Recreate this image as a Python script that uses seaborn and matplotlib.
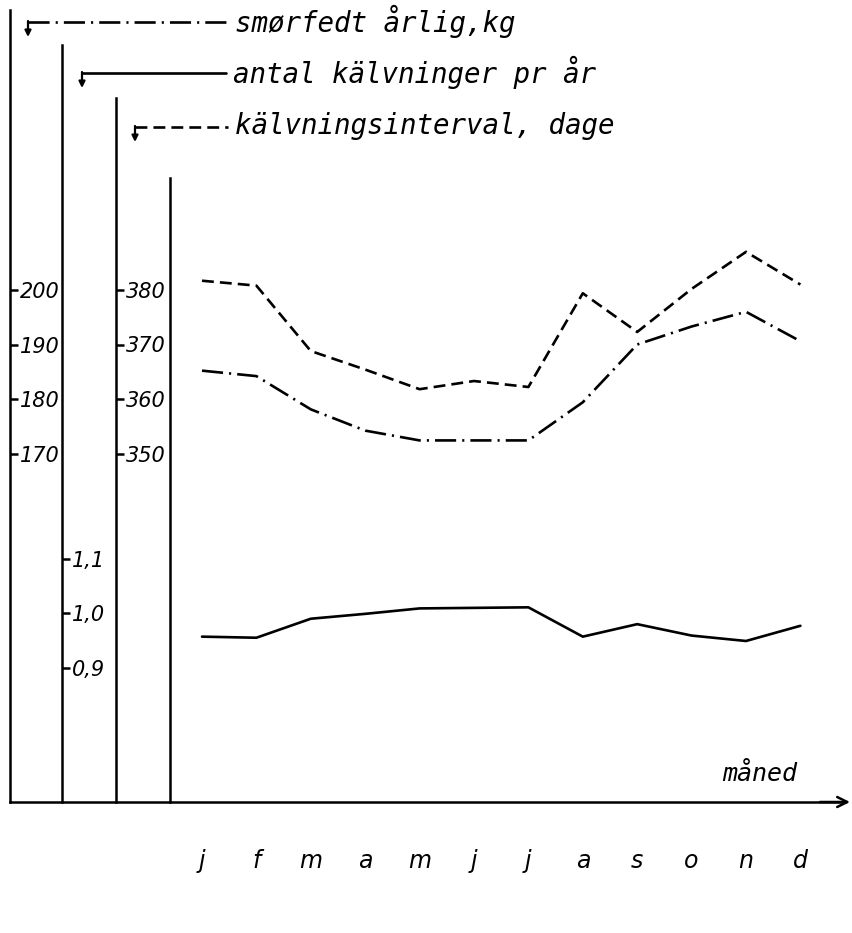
import numpy as np
import pandas as pd
import matplotlib
matplotlib.use("Agg")
import matplotlib.pyplot as plt
from matplotlib.lines import Line2D
import seaborn as sns

# ---- data -------------------------------------------------------------
months = ["j", "f", "m", "a", "m", "j", "j", "a", "s", "o", "n", "d"]
butterfat_kg = [185.2, 184.2, 178.1, 174.2, 172.4, 172.4, 172.4, 179.4, 190.0, 193.3, 196.0, 190.6]
calvings_per_year = [0.957, 0.955, 0.990, 0.999, 1.009, 1.010, 1.011, 0.957, 0.980, 0.959, 0.949, 0.977]
calving_interval_days = [381.7, 380.8, 368.8, 365.4, 361.8, 363.3, 362.2, 379.4, 372.3, 380.2, 387.0, 381.0]

kg_ticks = [170, 180, 190, 200]
kg_tick_labels = ["170", "180", "190", "200"]
calving_ticks = [0.9, 1.0, 1.1]
calving_tick_labels = ["0,9", "1,0", "1,1"]
interval_ticks = [350, 360, 370, 380]
interval_tick_labels = ["350", "360", "370", "380"]

legend_labels = ["smørfedt årlig,kg", "antal kälvninger pr år", "kälvningsinterval, dage"]
x_label = "måned"

df = pd.DataFrame({
    "month_index": np.arange(len(months)),
    "butterfat_kg": butterfat_kg,
    "calvings": calvings_per_year,
    "interval": calving_interval_days,
})

# ---- style ------------------------------------------------------------
sns.set_theme(style="white")
plt.rcParams["font.family"] = ["DejaVu Sans"]
plt.rcParams["axes.linewidth"] = 1.8
plt.rcParams["text.color"] = "black"
plt.rcParams["xtick.color"] = "black"
plt.rcParams["ytick.color"] = "black"
plt.rcParams["ytick.labelsize"] = 15
plt.rcParams["xtick.labelsize"] = 17
LETTERING = ["DejaVu Sans Mono"]

W, H = 853, 933
fig = plt.figure(figsize=(W / 100, H / 100), dpi=100, facecolor="white")

# frame in pixels (measured from the top-left corner)
LEFT, RIGHT, TOP, BOTTOM = 10, 845, 8, 802
ax_kg = fig.add_axes([LEFT / W, 1 - BOTTOM / H, (RIGHT - LEFT) / W, (BOTTOM - TOP) / H])
ax_calv = ax_kg.twinx()
ax_int = ax_kg.twinx()

# line styles
LW = 1.9
DASHED = (0, (4.5, 2.3))
DASHDOT = (0, (8.0, 2.3, 0.8, 2.3))

sns.lineplot(data=df, x="month_index", y="butterfat_kg", ax=ax_kg, color="black",
             linewidth=LW, linestyle=DASHDOT)
sns.lineplot(data=df, x="month_index", y="calvings", ax=ax_calv, color="black",
             linewidth=LW, linestyle="-")
sns.lineplot(data=df, x="month_index", y="interval", ax=ax_int, color="black",
             linewidth=LW, linestyle=DASHED)
for a in (ax_kg, ax_calv, ax_int):
    a.set_ylabel("")
    a.set_xlabel("")

# horizontal scale: first month at x=202 px, 54.4 px per month
X0, DX = 202, 54.4
ax_kg.set_xlim((LEFT - X0) / DX, (RIGHT - X0) / DX)

# vertical scales
KG_REF, KG_PX, KG_PPU = 200, 290, 5.45          # 200 kg at 290 px
CV_REF, CV_PX, CV_PPU = 1.0, 613.3, 543.0        # 1,0 at 613 px
IV_REF, IV_PX, IV_PPU = 380, 290, 5.45           # 380 days at 290 px


def px_to_val(px, ref, ref_px, ppu):
    return ref + (ref_px - px) / ppu


ax_kg.set_ylim(px_to_val(BOTTOM, KG_REF, KG_PX, KG_PPU), px_to_val(TOP, KG_REF, KG_PX, KG_PPU))
ax_calv.set_ylim(px_to_val(BOTTOM, CV_REF, CV_PX, CV_PPU), px_to_val(TOP, CV_REF, CV_PX, CV_PPU))
ax_int.set_ylim(px_to_val(BOTTOM, IV_REF, IV_PX, IV_PPU), px_to_val(TOP, IV_REF, IV_PX, IV_PPU))

for a in (ax_kg, ax_calv, ax_int):
    a.patch.set_visible(False)
    for s in a.spines.values():
        s.set_visible(False)
        s.set_linewidth(1.8)
        s.set_color("black")
    a.grid(False)

# vertical value axes: x position and top end in pixels
axis_specs = [
    (ax_kg, 10, 10, kg_ticks, kg_tick_labels, (KG_REF, KG_PX, KG_PPU)),
    (ax_calv, 62, 45, calving_ticks, calving_tick_labels, (CV_REF, CV_PX, CV_PPU)),
    (ax_int, 116, 98, interval_ticks, interval_tick_labels, (IV_REF, IV_PX, IV_PPU)),
]
for a, xpx, top_px, ticks, labels, scale in axis_specs:
    a.yaxis.tick_right()
    sp = a.spines["right"]
    sp.set_visible(True)
    sp.set_position(("axes", (xpx - LEFT) / (RIGHT - LEFT)))
    sp.set_bounds(px_to_val(BOTTOM, *scale), px_to_val(top_px, *scale))
    a.tick_params(axis="y", direction="out", length=5.5, width=1.8, pad=1.5,
                  right=True, left=False, labelright=True, labelleft=False,
                  colors="black", labelsize=15)
    a.set_yticks(ticks, labels)

# fourth vertical line bounding the plotting field
sp = ax_kg.spines["left"]
sp.set_visible(True)
sp.set_position(("axes", (170 - LEFT) / (RIGHT - LEFT)))
sp.set_bounds(px_to_val(BOTTOM, KG_REF, KG_PX, KG_PPU), px_to_val(178, KG_REF, KG_PX, KG_PPU))

# month axis
ax_kg.spines["bottom"].set_visible(True)
ax_kg.tick_params(axis="x", length=0, pad=34, colors="black", labelsize=17)
ax_kg.set_xticks(df["month_index"], months)
ax_kg.annotate("", xy=(850, H - BOTTOM), xycoords="figure pixels",
               xytext=(820, H - BOTTOM), textcoords="figure pixels",
               arrowprops=dict(arrowstyle="->", lw=1.8, color="black",
                               shrinkA=0, shrinkB=0, mutation_scale=18))
fig.text(760 / W, 1 - 774 / H, x_label, family=LETTERING, fontstyle="italic",
         fontsize=18, ha="center", va="center", color="black")

# italic lettering on every tick label (both label slots of each tick)
for a in (ax_kg, ax_calv, ax_int):
    for axis in (a.xaxis, a.yaxis):
        for tick in axis.get_major_ticks():
            for lab in (tick.label1, tick.label2):
                lab.set_fontstyle("italic")
                lab.set_color("black")

# key at the top: line sample with a hooked arrow down to its axis
key_rows = [
    (22, 28, 228, DASHDOT, legend_labels[0]),
    (73, 82, 226, "-", legend_labels[1]),
    (127, 135, 228, DASHED, legend_labels[2]),
]
for ypx, xhook, xend, ls, label in key_rows:
    fig.add_artist(Line2D([xhook / W, xend / W], [1 - ypx / H, 1 - ypx / H],
                          transform=fig.transFigure, color="black", lw=LW, linestyle=ls))
    ax_kg.annotate("", xy=(xhook, H - ypx - 15), xycoords="figure pixels",
                   xytext=(xhook, H - ypx + 1), textcoords="figure pixels",
                   arrowprops=dict(arrowstyle="-|>", lw=1.6, color="black",
                                   shrinkA=0, shrinkB=0, mutation_scale=9))
    fig.text((xend + 7) / W, 1 - (ypx - 1) / H, label, family=LETTERING,
             fontstyle="italic", fontsize=19.8, ha="left", va="center", color="black")

fig.savefig("out.png", dpi=100, facecolor="white")
